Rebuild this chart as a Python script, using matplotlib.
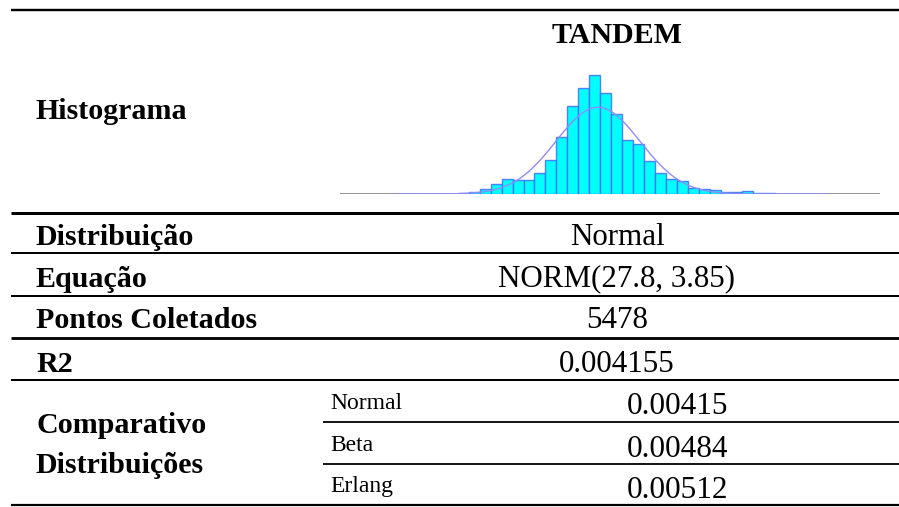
import numpy as np
import matplotlib
matplotlib.use("Agg")
import matplotlib.pyplot as plt

# ---------------- data ----------------
title = "TANDEM"
hist_label = "Histograma"
row_labels = ["Distribuição", "Equação", "Pontos Coletados", "R2"]
row_values = ["Normal", "NORM(27.8, 3.85)", "5478", "0.004155"]
comp_label = ["Comparativo", "Distribuições"]
comp_names = ["Normal", "Beta", "Erlang"]
comp_values = ["0.00415", "0.00484", "0.00512"]

bin_left = list(range(15, 44))
counts = [7, 11, 31, 68, 96, 92, 92, 140, 223, 375, 576, 697, 779, 659, 522,
          353, 327, 216, 135, 96, 87, 39, 35, 24, 13, 11, 18, 9, 7]
fit_mean = 27.8
fit_std = 3.85
n_points = 5478
curve_range = (9.2, 48.7)

# ---------------- figure ----------------
W, H = 899, 507
fig = plt.figure(figsize=(W / 100, H / 100), dpi=100)
plt.rcParams['font.family'] = ['Liberation Serif', 'DejaVu Serif']

bg = fig.add_axes([0, 0, 1, 1])
bg.set_xlim(0, W)
bg.set_ylim(H, 0)
bg.axis('off')

def hline(y, x0, x1, lw_px):
    bg.plot([x0, x1], [y, y], color='black', lw=lw_px * 0.72, solid_capstyle='butt')

hline(10, 11, W, 2.4)
hline(212.7, 11, W, 3.0)
hline(252.7, 11, W, 2.0)
hline(296, 11, W, 2.0)
hline(338, 11, W, 2.8)
hline(380, 11, W, 2.0)
hline(421.7, 323, W, 1.8)
hline(464, 323, W, 1.8)
hline(505, 11, W, 2.2)

bold = dict(fontweight='bold', fontsize=21.6, va='baseline', ha='left', color='black')
reg = dict(fontsize=22.3, va='baseline', ha='center', color='black')

bg.text(617, 43, title, fontweight='bold', fontsize=21.6, va='baseline', ha='center')
bg.text(36, 119.3, hist_label, **bold)

row_base = [245, 286.7, 328, 371.7]
for lab, val, yb in zip(row_labels, row_values, row_base):
    bg.text(36, yb, lab, **bold)
    bg.text(617, yb, val, **reg)

bg.text(36, 433.3, comp_label[0], **bold)
bg.text(36, 473.3, comp_label[1], **bold)

sub_base_lab = [409.3, 450.7, 491.7]
sub_base_val = [414, 456.7, 498.3]
for name, val, yl, yv in zip(comp_names, comp_values, sub_base_lab, sub_base_val):
    bg.text(330, yl, name, fontsize=17, va='baseline', ha='left')
    bg.text(677, yv, val, fontsize=22.5, va='baseline', ha='center')

# ---------------- histogram ----------------
ax_left, ax_right, ax_base, ax_top = 340, 880, 194, 60
ax = fig.add_axes([ax_left / W, (H - ax_base) / H,
                   (ax_right - ax_left) / W, (ax_base - ax_top) / H])
ax.axis('off')
ax.bar(bin_left, counts, width=1.0, align='edge', color='#00ffff',
       edgecolor=(0.25, 0.42, 1.0, 0.85), linewidth=1.0, zorder=2)
ax.axhline(0, color='#808080', lw=1.2, zorder=1)
xs = np.linspace(curve_range[0], curve_range[1], 400)
ys = n_points * np.exp(-0.5 * ((xs - fit_mean) / fit_std) ** 2) / (fit_std * np.sqrt(2 * np.pi))
ax.plot(xs, ys, color='#8c8cff', lw=1.0, zorder=3)
ax.set_xlim(4.24, 53.56)
ax.set_ylim(0, max(counts) * 134 / 119)

fig.savefig("out.png", dpi=100)
